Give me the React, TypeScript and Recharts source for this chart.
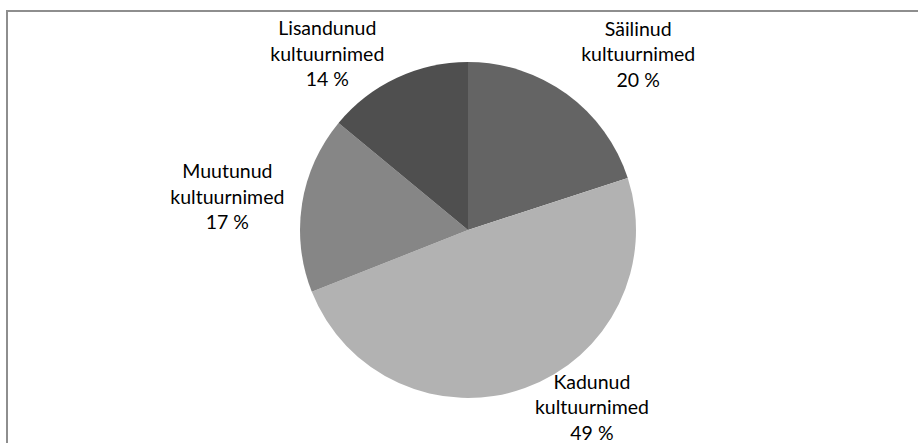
import { PieChart, Pie, Cell } from 'recharts';

const names = ['Säilinud', 'Kadunud', 'Muutunud', 'Lisandunud'];
const shares = [20, 49, 17, 14];
const colors = ['#646464', '#b2b2b2', '#868686', '#4f4f4f'];

const data = names.map((n, i) => ({ name: n, value: shares[i] }));

// where Excel put each label (angle in degrees, distance from the centre)
const labelAngle = [46, -55, 172, 128.5];
const labelDist = [245, 216, 243, 226];

const RADIAN = Math.PI / 180;

const renderLabel = (props: any) => {
  const { cx, cy, index, name, value } = props;
  const a = labelAngle[index] * RADIAN;
  const x = cx + labelDist[index] * Math.cos(a);
  const y = cy - labelDist[index] * Math.sin(a);
  const lh = 25.5;
  return (
    <text
      x={x}
      y={y}
      textAnchor="middle"
      fill="#000"
      style={{ fontFamily: 'Lato, sans-serif', fontSize: 19.5 }}
    >
      <tspan x={x} y={y - lh} dominantBaseline="central">{name}</tspan>
      <tspan x={x} y={y} dominantBaseline="central">kultuurnimed</tspan>
      <tspan x={x} y={y + lh} dominantBaseline="central">{value} %</tspan>
    </text>
  );
};

const App = () => {
  return (
    <div style={{ position: 'absolute', left: 0, top: 0, width: 918, height: 443, background: '#fff', overflow: 'hidden' }}>
      <div
        style={{
          position: 'absolute',
          left: 6,
          top: 10,
          width: 930,
          height: 450,
          borderTop: '2px solid #8e8e8e',
          borderLeft: '2px solid #8e8e8e',
        }}
      />
      <PieChart
        width={918}
        height={443}
        margin={{ top: 0, right: 0, bottom: 0, left: 0 }}
        style={{ position: 'absolute', left: 0, top: 0 }}
      >
        <Pie
          data={data}
          dataKey="value"
          nameKey="name"
          cx={468}
          cy={230}
          outerRadius={168}
          startAngle={90}
          endAngle={-270}
          stroke="none"
          label={renderLabel}
          labelLine={false}
          isAnimationActive={false}
        >
          {data.map((d, i) => (
            <Cell key={d.name} fill={colors[i]} />
          ))}
        </Pie>
      </PieChart>
    </div>
  );
};

export default App;
